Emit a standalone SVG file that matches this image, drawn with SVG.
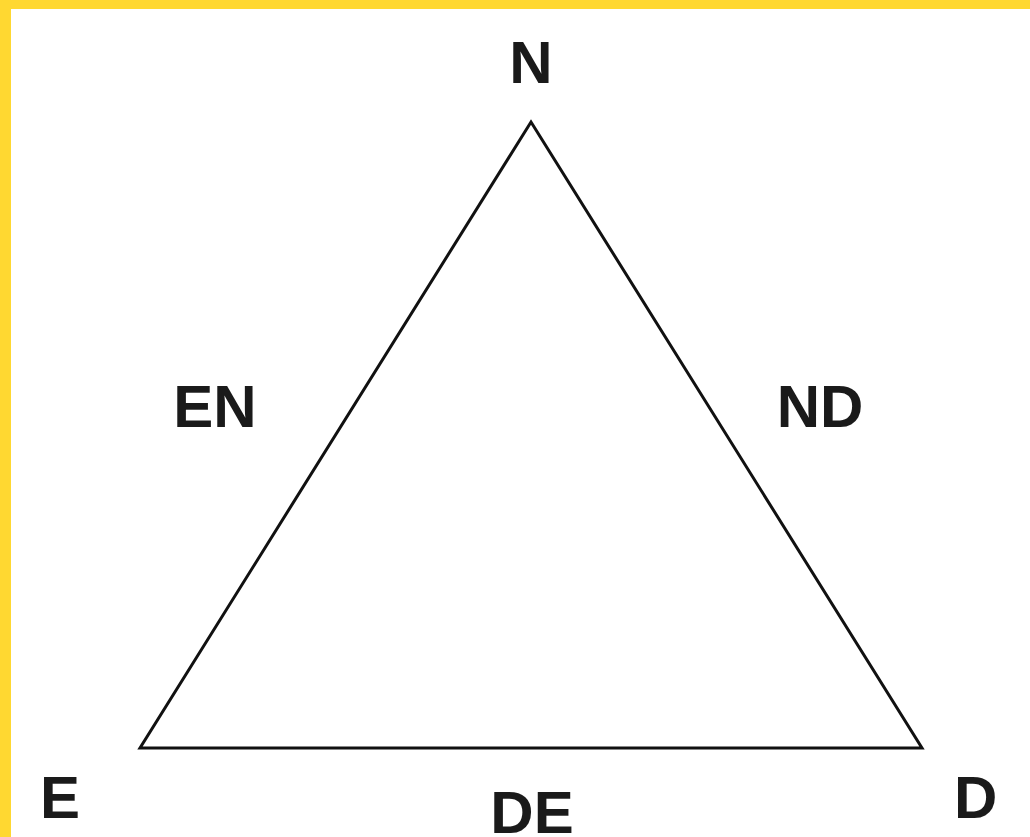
<svg xmlns="http://www.w3.org/2000/svg" width="1030" height="837" viewBox="0 0 1030 837">
<style>
.lbl{font-family:"Liberation Sans",Arial,sans-serif;font-weight:bold;font-size:60px;fill:#1a1a1a}
.edge{fill:none;stroke:#111;stroke-width:3;stroke-linejoin:miter}
</style>
<rect x="0" y="0" width="1030" height="837" fill="#ffffff"/>
<rect x="0" y="0" width="1030" height="9" fill="#FFD831"/>
<rect x="0" y="0" width="11" height="837" fill="#FFD831"/>
<g id="connectors">
<polygon class="edge" points="531,122 922,748 140,748"/>
</g>
<g id="node-N"><text class="lbl" x="531" y="83" text-anchor="middle">N</text></g>
<g id="node-E"><text class="lbl" x="40" y="818">E</text></g>
<g id="node-D"><text class="lbl" x="954" y="818">D</text></g>
<g id="label-EN"><text class="lbl" x="215" y="427" text-anchor="middle">EN</text></g>
<g id="label-ND"><text class="lbl" x="820" y="427" text-anchor="middle">ND</text></g>
<g id="label-DE"><text class="lbl" x="532" y="833" text-anchor="middle">DE</text></g>
</svg>
